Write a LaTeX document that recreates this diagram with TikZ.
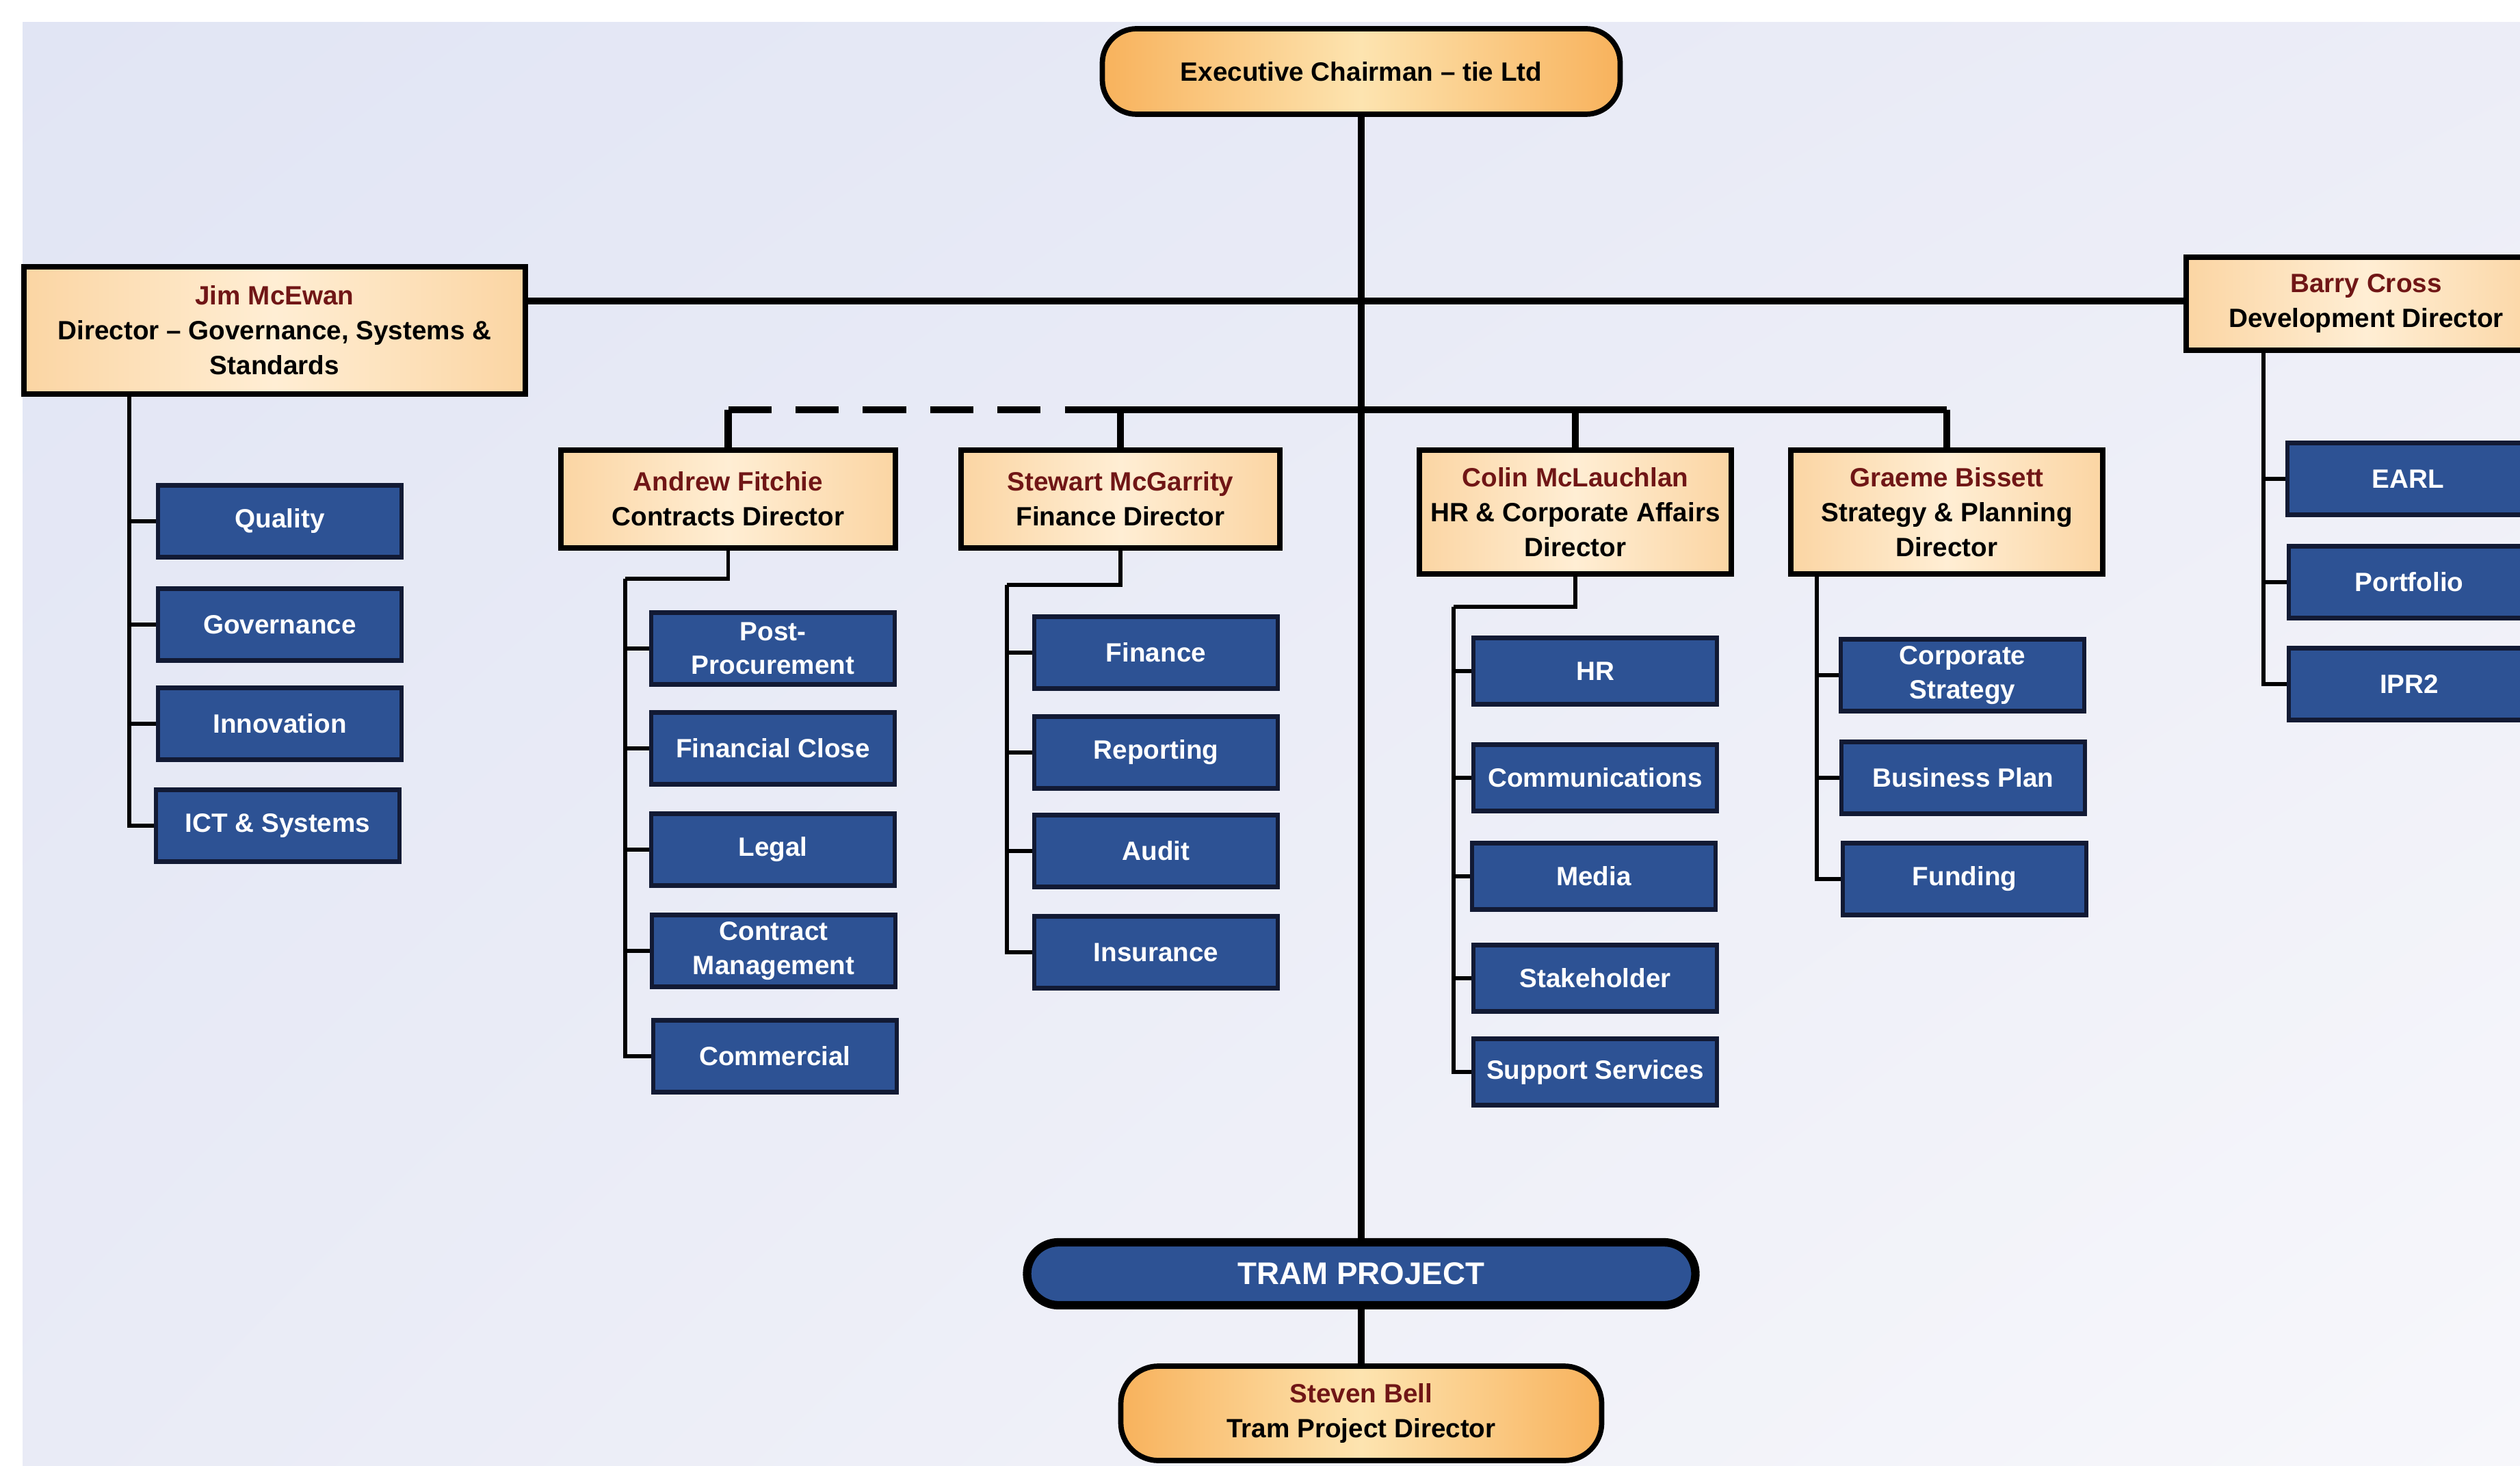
\documentclass[tikz,border=0pt]{standalone}
\usepackage{fontspec}
\setmainfont{Liberation Sans}
\usepackage{tikz}
\usetikzlibrary{shadings}

\definecolor{peach}{RGB}{251,213,163}
\definecolor{peachlight}{RGB}{255,238,212}
\definecolor{amber}{RGB}{248,178,92}
\definecolor{amberlight}{RGB}{253,228,176}
\definecolor{navy}{RGB}{45,82,148}
\definecolor{navyline}{RGB}{18,26,52}
\definecolor{namered}{RGB}{112,22,22}
\definecolor{bgA}{RGB}{225,229,244}
\definecolor{bgB}{RGB}{236,237,247}
\definecolor{bgC}{RGB}{233,235,246}
\definecolor{bgD}{RGB}{247,247,251}
\newcommand{\who}[1]{\textcolor{namered}{#1}}

\begin{document}
\begin{tikzpicture}[
  director/.style={rectangle, draw=black, line width=2.2pt, left color=peach, right color=peach, middle color=peachlight,
    align=center, inner sep=2pt, font=\bfseries\fontsize{11}{14.5}\selectfont},
  pill/.style={rectangle, rounded corners=0.5cm, draw=black, line width=2.2pt, left color=amber, right color=amber,
    middle color=amberlight, align=center, font=\bfseries\fontsize{11}{14.5}\selectfont},
  unit/.style={rectangle, draw=navyline, line width=1.8pt, fill=navy, text=white, minimum width=3.56cm,
    minimum height=1.05cm, align=center, inner sep=1pt, font=\bfseries\fontsize{11}{14}\selectfont},
  link/.style={line width=3pt},
  sublink/.style={line width=1.6pt}]
\useasboundingbox (0,0) rectangle (36.84,-21.43);
\fill[white] (0,0) rectangle (36.84,-21.43);
\shade[upper left=bgA, upper right=bgB, lower left=bgC, lower right=bgD] (0.33,-0.33) rectangle (36.84,-21.43);

\node[pill, minimum width=7.57cm, minimum height=1.25cm] (chair) at (19.90,-1.045) {Executive Chairman -- tie Ltd};

\node[director, minimum width=7.33cm, minimum height=1.86cm] (jim) at (4.015,-4.83)
  {\who{Jim McEwan}\\Director -- Governance, Systems \&\\Standards};
\node[director, minimum width=5.26cm, minimum height=1.36cm] (barry) at (34.59,-4.44)
  {\who{Barry Cross}\\Development Director};
\node[director, minimum width=4.89cm, minimum height=1.43cm] (andrew) at (10.645,-7.295)
  {\who{Andrew Fitchie}\\Contracts Director};
\node[director, minimum width=4.66cm, minimum height=1.43cm] (stewart) at (16.38,-7.295)
  {\who{Stewart McGarrity}\\Finance Director};
\node[director, minimum width=4.56cm, minimum height=1.81cm] (colin) at (23.03,-7.485)
  {\who{Colin McLauchlan}\\HR \& Corporate Affairs\\Director};
\node[director, minimum width=4.56cm, minimum height=1.81cm] (graeme) at (28.46,-7.485)
  {\who{Graeme Bissett}\\Strategy \& Planning\\Director};

\node[unit] (quality) at (4.09,-7.62) {Quality};
\node[unit] (governance) at (4.09,-9.13) {Governance};
\node[unit] (innovation) at (4.09,-10.58) {Innovation};
\node[unit] (ict) at (4.06,-12.07) {ICT \& Systems};

\node[unit] (postproc) at (11.30,-9.48) {Post-\\Procurement};
\node[unit] (finclose) at (11.30,-10.94) {Financial Close};
\node[unit] (legal) at (11.30,-12.42) {Legal};
\node[unit] (contract) at (11.31,-13.90) {Contract\\Management};
\node[unit] (commercial) at (11.33,-15.44) {Commercial};

\node[unit] (finance) at (16.90,-9.54) {Finance};
\node[unit] (reporting) at (16.90,-11.00) {Reporting};
\node[unit] (audit) at (16.90,-12.44) {Audit};
\node[unit] (insurance) at (16.90,-13.92) {Insurance};

\node[unit, minimum height=0.97cm] (hr) at (23.32,-9.81) {HR};
\node[unit, minimum height=0.97cm] (comms) at (23.32,-11.37) {Communications};
\node[unit, minimum height=0.97cm] (media) at (23.30,-12.81) {Media};
\node[unit, minimum height=0.97cm] (stake) at (23.32,-14.30) {Stakeholder};
\node[unit, minimum height=0.97cm] (support) at (23.32,-15.67) {Support Services};

\node[unit] (corpstrat) at (28.69,-9.87) {Corporate\\Strategy};
\node[unit] (busplan) at (28.70,-11.37) {Business Plan};
\node[unit] (funding) at (28.72,-12.85) {Funding};

\node[unit, minimum width=3.52cm] (earl) at (35.20,-7.00) {EARL};
\node[unit, minimum width=3.52cm] (portfolio) at (35.22,-8.51) {Portfolio};
\node[unit, minimum width=3.52cm] (ipr) at (35.22,-10.00) {IPR2};

\node[rectangle, rounded corners=0.46cm, draw=black, line width=3.5pt, fill=navy, text=white,
  minimum width=9.77cm, minimum height=0.92cm, font=\bfseries\fontsize{13}{15}\selectfont] (tram) at (19.90,-18.62) {TRAM PROJECT};
\node[pill, rounded corners=0.55cm, minimum width=7.03cm, minimum height=1.38cm] (steven) at (19.90,-20.66)
  {\who{Steven Bell}\\Tram Project Director};

\coordinate (topbar) at (19.90,-4.40);
\coordinate (midbar) at (19.90,-5.99);
\coordinate (dashend) at (15.75,-5.99);

\draw[link] (chair.south) -- (tram.north);
\draw[link] (tram.south) -- (steven.north);
\draw[link] (jim.east |- topbar) -- (barry.west |- topbar);
\draw[link, dash pattern=on 18pt off 10pt] (andrew.north |- midbar) -- (dashend);
\draw[link] (dashend) -- (graeme.north |- midbar);
\draw[link] (andrew.north) -- (andrew.north |- midbar);
\draw[link] (stewart.north) -- (stewart.north |- midbar);
\draw[link] (colin.north) -- (colin.north |- midbar);
\draw[link] (graeme.north) -- (graeme.north |- midbar);

\coordinate (jimbus) at ([xshift=1.58cm]jim.south west);
\draw[sublink] (jimbus) |- (quality.west) (jimbus) |- (governance.west)
  (jimbus) |- (innovation.west) (jimbus) |- (ict.west);

\coordinate (andrewbus) at (9.14,-8.46);
\draw[sublink] (andrew.south) |- (andrewbus);
\draw[sublink] (andrewbus) |- (postproc.west) (andrewbus) |- (finclose.west) (andrewbus) |- (legal.west)
  (andrewbus) |- (contract.west) (andrewbus) |- (commercial.west);

\coordinate (stewartbus) at (14.72,-8.55);
\draw[sublink] (stewart.south) |- (stewartbus);
\draw[sublink] (stewartbus) |- (finance.west) (stewartbus) |- (reporting.west)
  (stewartbus) |- (audit.west) (stewartbus) |- (insurance.west);

\coordinate (colinbus) at (21.25,-8.87);
\draw[sublink] (colin.south) |- (colinbus);
\draw[sublink] (colinbus) |- (hr.west) (colinbus) |- (comms.west) (colinbus) |- (media.west)
  (colinbus) |- (stake.west) (colinbus) |- (support.west);

\coordinate (graemebus) at ([xshift=0.42cm]graeme.south west);
\draw[sublink] (graemebus) |- (corpstrat.west) (graemebus) |- (busplan.west) (graemebus) |- (funding.west);

\coordinate (barrybus) at ([xshift=1.17cm]barry.south west);
\draw[sublink] (barrybus) |- (earl.west) (barrybus) |- (portfolio.west) (barrybus) |- (ipr.west);
\end{tikzpicture}
\end{document}
